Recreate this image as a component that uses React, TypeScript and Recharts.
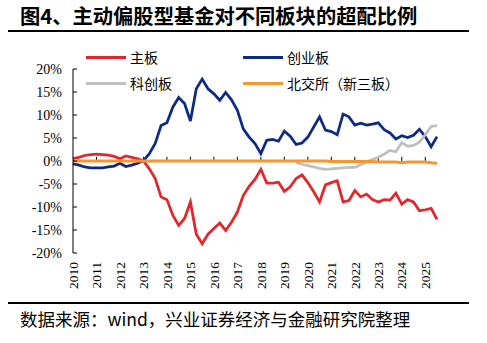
import { Line, LineChart, ReferenceLine, XAxis, YAxis } from "recharts";

// 季度：2010Q1 ~ 2025Q3
const years = [2010, 2011, 2012, 2013, 2014, 2015, 2016, 2017, 2018, 2019, 2020, 2021, 2022, 2023, 2024, 2025];
const quarters = ["Q1", "Q2", "Q3", "Q4"];
const categories = years.flatMap((y) => quarters.map((q) => `${y}${q}`)).slice(0, 63);

const zhuban = [
  0.5, 0.8, 1.2, 1.4, 1.5, 1.4, 1.3, 1.0, 0.5, 1.1, 0.8, 0.5,
  0.0, -1.7, -3.8, -7.8, -8.4, -11.8, -14.0, -12.5, -8.9, -15.9, -18.0, -15.9,
  -14.7, -13.5, -15.1, -13.3, -11.1, -7.5, -5.5, -4.0, -1.8, -4.8, -4.8, -4.6,
  -6.6, -5.6, -3.8, -3.0, -4.7, -6.7, -8.9, -5.2, -4.7, -4.3, -8.9, -8.6,
  -6.4, -7.8, -7.2, -8.4, -8.9, -8.4, -8.5, -7.0, -9.4, -8.4, -8.9, -10.8,
  -10.6, -10.3, -12.7,
];

const chuangyeban = [
  -0.6, -0.9, -1.3, -1.5, -1.5, -1.5, -1.3, -1.1, -0.5, -1.2, -0.9, -0.5,
  0.1, 1.6, 3.8, 7.7, 8.3, 11.7, 13.8, 12.5, 8.7, 15.7, 17.8, 15.7,
  14.6, 13.2, 14.9, 13.3, 11.0, 7.0, 5.2, 3.8, 1.6, 4.5, 4.7, 4.3,
  6.5, 5.4, 3.6, 3.9, 5.2, 7.4, 9.6, 6.7, 6.4, 5.7, 10.2, 9.6,
  7.8, 8.2, 7.8, 8.0, 8.3, 6.8, 6.1, 4.8, 5.5, 5.1, 5.6, 6.9,
  5.3, 3.1, 5.3,
];

// 科创板 2019Q3 起
const kechuangban = [
  null, null, null, null, null, null, null, null, null, null, null, null,
  null, null, null, null, null, null, null, null, null, null, null, null,
  null, null, null, null, null, null, null, null, null, null, null, null,
  null, null, -0.3, -0.7, -1.0, -1.3, -1.6, -1.8, -1.7, -1.6, -1.5, -1.4,
  -1.4, -0.8, -0.2, 0.3, 0.8, 1.5, 2.3, 2.0, 4.0, 3.2, 3.4, 4.1,
  5.7, 7.5, 7.7,
];

const beijiaosuo = [
  0, 0, 0, 0, 0, 0, 0, 0, 0, 0, 0, 0,
  0, 0, 0, 0, 0, 0, 0, 0, 0, 0, 0, 0,
  0, 0, 0, 0, 0, 0, 0, 0, 0, 0, 0, 0,
  0, 0, 0, 0, 0, 0, 0, 0, -0.1, -0.1, -0.1, -0.1,
  -0.1, -0.1, -0.1, -0.1, -0.2, -0.2, -0.2, -0.2, -0.4, -0.2, -0.2, -0.2,
  -0.2, -0.4, -0.5,
];

const yTicks = [-20, -15, -10, -5, 0, 5, 10, 15, 20];

const series = [
  { key: "zhuban", name: "主板", color: "#E3262B" },
  { key: "chuangyeban", name: "创业板", color: "#0D2B85" },
  { key: "kechuangban", name: "科创板", color: "#BFBFBF" },
  { key: "beijiaosuo", name: "北交所（新三板）", color: "#F7962E" },
];

const data = categories.map((q, i) => ({
  q,
  zhuban: zhuban[i],
  chuangyeban: chuangyeban[i],
  kechuangban: kechuangban[i],
  beijiaosuo: beijiaosuo[i],
}));

const yearTicks = categories.filter((c, i) => i > 0 && i % 4 === 0);

const cjk = '"Noto Sans CJK SC", "Noto Sans", sans-serif';
const serif = '"Liberation Serif", "DejaVu Serif", serif';

const XTick = (props: any) => {
  const { x, y, payload } = props;
  return (
    <text
      x={x}
      y={y}
      transform={`rotate(-90, ${x}, ${y})`}
      textAnchor="end"
      dy="0.35em"
      fontSize={13.5}
      fontFamily={serif}
      fill="#000"
    >
      {String(payload.value).slice(0, 4)}
    </text>
  );
};

const LegendBox = () => (
  <div
    style={{
      position: "absolute",
      left: 86,
      top: 47,
      display: "grid",
      gridTemplateColumns: "157px 200px",
      rowGap: 6,
      fontFamily: cjk,
      fontSize: 14,
      color: "#000",
    }}
  >
    {series.map((s) => (
      <div key={s.key} style={{ display: "flex", alignItems: "center", height: 20 }}>
        <span style={{ width: 40, height: 3, background: s.color, marginRight: 4 }} />
        <span>{s.name}</span>
      </div>
    ))}
  </div>
);

export default function App() {
  return (
    <div
      style={{
        position: "absolute",
        left: 0,
        top: 0,
        width: 487,
        height: 343,
        background: "#fff",
        overflow: "hidden",
      }}
    >
      <div
        style={{
          position: "absolute",
          left: 20,
          top: 3,
          fontFamily: cjk,
          fontWeight: 700,
          fontSize: 20.3,
          lineHeight: "24px",
          color: "#000",
          whiteSpace: "nowrap",
        }}
      >
        图4、主动偏股型基金对不同板块的超配比例
      </div>
      <div style={{ position: "absolute", left: 8, top: 30, width: 461, height: 1.5, background: "#000" }} />

      <div style={{ position: "absolute", left: 0, top: 0 }}>
        <LineChart
          width={487}
          height={343}
          data={data}
          margin={{ top: 69, right: 50, bottom: 0, left: 0 }}
        >
          <XAxis
            dataKey="q"
            interval={3}
            axisLine={false}
            tickLine={false}
            height={90}
            tickMargin={3}
            tick={<XTick />}
          />
          <YAxis
            width={73}
            domain={[-20, 20]}
            ticks={yTicks}
            interval={0}
            tickFormatter={(v: number) => `${v}%`}
            axisLine={{ stroke: "#000", strokeWidth: 1 }}
            tickLine={{ stroke: "#000", strokeWidth: 1 }}
            tickSize={-4}
            tickMargin={15}
            tick={{ fill: "#000", fontSize: 14, fontFamily: serif }}
          />
          {yearTicks.map((c) => (
            <ReferenceLine
              key={c}
              segment={[
                { x: c, y: 0 },
                { x: c, y: 0.9 },
              ]}
              stroke="#000"
              strokeWidth={1}
            />
          ))}
          {series.map((s) => (
            <Line
              key={s.key}
              type="linear"
              dataKey={s.key}
              name={s.name}
              stroke={s.color}
              strokeWidth={s.key === "beijiaosuo" ? 3 : 2.75}
              dot={false}
              isAnimationActive={false}
              connectNulls={false}
            />
          ))}
        </LineChart>
      </div>

      <LegendBox />

      <div style={{ position: "absolute", left: 8, top: 302, width: 461, height: 1.5, background: "#000" }} />
      <div
        style={{
          position: "absolute",
          left: 20,
          top: 308,
          fontFamily: cjk,
          fontSize: 17.5,
          lineHeight: "22px",
          color: "#000",
          whiteSpace: "nowrap",
        }}
      >
        数据来源：wind，兴业证券经济与金融研究院整理
      </div>
    </div>
  );
}
